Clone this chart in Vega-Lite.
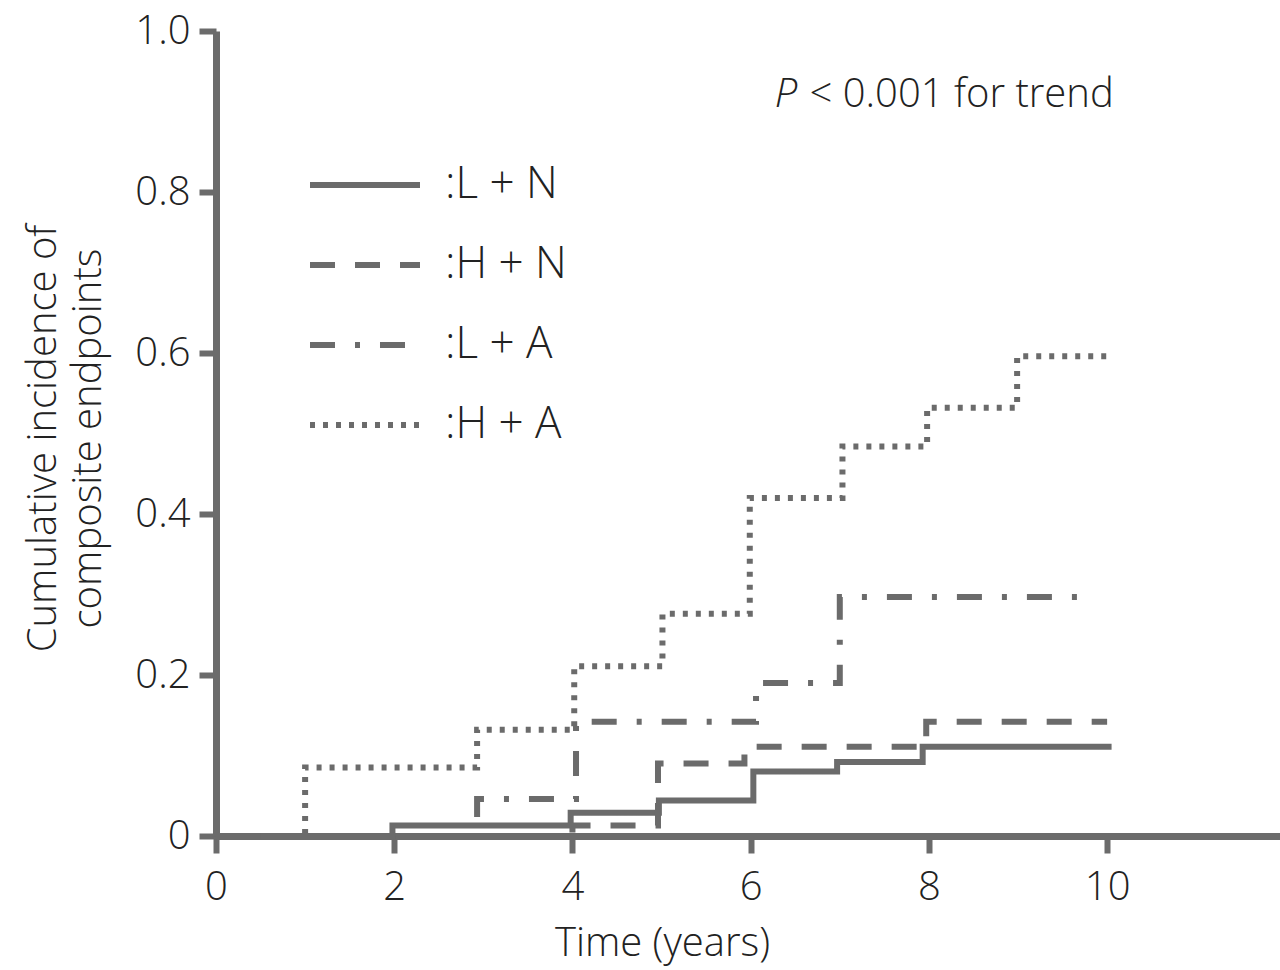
{
  "$schema": "https://vega.github.io/schema/vega-lite/v6.json",
  "width": 1064,
  "height": 805,
  "autosize": {"type": "none"},
  "padding": {"left": 216, "top": 31, "right": 0, "bottom": 134},
  "background": "white",
  "config": {
    "view": {"stroke": null},
    "font": "Open Sans",
    "axis": {
      "domainColor": "#6b6b6b",
      "domainWidth": 7,
      "tickColor": "#6b6b6b",
      "tickWidth": 6,
      "tickSize": 17,
      "grid": false,
      "labelFlush": false,
      "labelFont": "Open Sans",
      "labelFontWeight": 300,
      "labelFontSize": 40,
      "labelColor": "#222222",
      "titleFont": "Open Sans",
      "titleFontWeight": 300,
      "titleFontSize": 40,
      "titleColor": "#222222"
    }
  },
  "datasets": {
    "curves": [
      {"g": "L + N", "t": 0, "v": 0},
      {"g": "L + N", "t": 1.98, "v": 0.013},
      {"g": "L + N", "t": 3.98, "v": 0.029},
      {"g": "L + N", "t": 4.97, "v": 0.044},
      {"g": "L + N", "t": 6.03, "v": 0.080},
      {"g": "L + N", "t": 6.97, "v": 0.092},
      {"g": "L + N", "t": 7.93, "v": 0.111},
      {"g": "L + N", "t": 10.05, "v": 0.111},
      {"g": "H + N", "t": 0, "v": 0},
      {"g": "H + N", "t": 4.0, "v": 0.013},
      {"g": "H + N", "t": 4.96, "v": 0.090},
      {"g": "H + N", "t": 5.93, "v": 0.111},
      {"g": "H + N", "t": 7.97, "v": 0.142},
      {"g": "H + N", "t": 10.0, "v": 0.142},
      {"g": "L + A", "t": 0, "v": 0},
      {"g": "L + A", "t": 2.93, "v": 0.046},
      {"g": "L + A", "t": 4.04, "v": 0.142},
      {"g": "L + A", "t": 6.06, "v": 0.190},
      {"g": "L + A", "t": 7.0, "v": 0.297},
      {"g": "L + A", "t": 9.7, "v": 0.297},
      {"g": "H + A", "t": 0, "v": 0},
      {"g": "H + A", "t": 1.0, "v": 0.085},
      {"g": "H + A", "t": 2.93, "v": 0.132},
      {"g": "H + A", "t": 4.02, "v": 0.211},
      {"g": "H + A", "t": 5.01, "v": 0.276},
      {"g": "H + A", "t": 5.99, "v": 0.420},
      {"g": "H + A", "t": 7.03, "v": 0.484},
      {"g": "H + A", "t": 7.98, "v": 0.532},
      {"g": "H + A", "t": 8.99, "v": 0.596},
      {"g": "H + A", "t": 10.0, "v": 0.596}
    ],
    "noteP": [
      {"t": 6.27, "v": 0.906, "txt": "P"}
    ],
    "noteRest": [
      {"t": 6.66, "v": 0.906, "txt": "< 0.001 for trend"}
    ]
  },
  "layer": [
    {
      "data": {"name": "curves"},
      "mark": {"type": "line", "interpolate": "step-after", "strokeWidth": 6, "color": "#6b6b6b", "strokeCap": "butt"},
      "encoding": {
        "x": {
          "field": "t", "type": "quantitative",
          "scale": {"domain": [0, 11.94], "nice": false, "zero": false},
          "axis": {"values": [0, 2, 4, 6, 8, 10], "format": "d", "title": "Time (years)", "labelPadding": 14,
                   "titleX": 446, "titleY": 119, "titleBaseline": "alphabetic", "titleAlign": "center", "titleAnchor": null}
        },
        "y": {
          "field": "v", "type": "quantitative",
          "scale": {"domain": [0, 1], "nice": false},
          "axis": {"values": [0, 0.2, 0.4, 0.6, 0.8, 1.0], "labelPadding": 9,
                   "labelExpr": "datum.value == 0 ? '0' : format(datum.value, '.1f')",
                   "title": ["Cumulative incidence of", "composite endpoints"],
                   "titleX": -161, "titleY": 407, "titleAlign": "center", "titleBaseline": "alphabetic",
                   "titleAngle": -90, "titleLineHeight": 45, "titleAnchor": null}
        },
        "strokeDash": {
          "field": "g", "type": "nominal",
          "scale": {"domain": ["L + N", "H + N", "L + A", "H + A"],
                    "range": [[1, 0], [25, 20], [25, 20, 5, 20], [5, 8]]},
          "legend": {
            "orient": "none", "legendX": 91, "legendY": 96, "title": null, "padding": 0,
            "symbolType": "stroke", "symbolSize": 12100, "symbolStrokeWidth": 6,
            "symbolStrokeColor": "#6b6b6b",
            "labelFont": "Open Sans", "labelFontWeight": 300, "labelFontSize": 44, "labelColor": "#222222",
            "labelOffset": 22, "rowPadding": -32,
            "labelExpr": "':' + datum.label"
          }
        }
      }
    },
    {
      "data": {"name": "noteP"},
      "mark": {"type": "text", "font": "Open Sans", "fontWeight": 300, "fontStyle": "italic", "fontSize": 40, "color": "#222222", "align": "left", "baseline": "alphabetic"},
      "encoding": {
        "x": {"field": "t", "type": "quantitative"},
        "y": {"field": "v", "type": "quantitative"},
        "text": {"field": "txt"}
      }
    },
    {
      "data": {"name": "noteRest"},
      "mark": {"type": "text", "font": "Open Sans", "fontWeight": 300, "fontSize": 40, "color": "#222222", "align": "left", "baseline": "alphabetic"},
      "encoding": {
        "x": {"field": "t", "type": "quantitative"},
        "y": {"field": "v", "type": "quantitative"},
        "text": {"field": "txt"}
      }
    }
  ]
}
